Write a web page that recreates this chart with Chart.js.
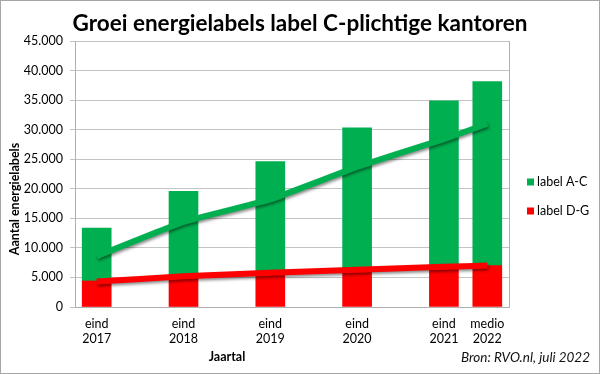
<!DOCTYPE html>
<html>
<head>
<meta charset="utf-8">
<script src="https://cdn.jsdelivr.net/npm/chart.js@4"></script>
<style>
html,body{margin:0;padding:0;background:#fff;}
#wrap{width:600px;height:374px;position:relative;}
</style>
</head>
<body>
<div id="wrap"><canvas id="c" width="600" height="374"></canvas></div>
<script>
// ---- data ----
const periods   = [2017, 2018, 2019, 2020, 2021, 2021.5];           // time position of each bar
const xLabels   = [["eind","2017"],["eind","2018"],["eind","2019"],["eind","2020"],["eind","2021"],["medio","2022"]];
const labelDG   = [4400, 5300, 5900, 6400, 6900, 7000];               // red bars (bottom)
const labelAC   = [8950, 14250, 18700, 23930, 27980, 31130];          // green bars (stacked on top)
const trendAC   = [8600, 14400, 18200, 23700, 28400, 31000];          // green line
const trendDG   = [4300, 5200, 5800, 6300, 6800, 7000];               // red line
const yTicks    = [0, 5000, 10000, 15000, 20000, 25000, 30000, 35000, 40000, 45000];
const seriesNames = ["label A-C", "label D-G"];

const GREEN = '#00B050', RED = '#FF0000';
const FONT = 'Lato, "Open Sans", sans-serif';

function pts(arr){ return arr.map((v,i)=>({x:periods[i], y:v})); }
function fmt(v){ return String(v).replace(/\B(?=(\d{3})+(?!\d))/g, '.'); }

const decor = {
  id:'decor',
  beforeDraw(chart){
    const ctx = chart.ctx;
    ctx.save();
    ctx.fillStyle = '#fff';
    ctx.fillRect(0,0,chart.width,chart.height);
    ctx.restore();
  },
  beforeDatasetDraw(chart, args){
    const ds = chart.data.datasets[args.index];
    if (ds.type === 'line'){
      const ctx = chart.ctx;
      ctx.save();
      ctx.shadowColor = 'rgba(0,0,0,0.45)';
      ctx.shadowBlur = 3;
      ctx.shadowOffsetX = 1;
      ctx.shadowOffsetY = 2;
    }
  },
  afterDatasetDraw(chart, args){
    const ds = chart.data.datasets[args.index];
    if (ds.type === 'line') chart.ctx.restore();
  },
  afterDraw(chart){
    const ctx = chart.ctx, a = chart.chartArea;
    ctx.save();
    // right border of plot area
    ctx.strokeStyle = '#b0b0b0';
    ctx.lineWidth = 1;
    ctx.beginPath();
    ctx.moveTo(Math.round(a.right)+0.5, a.top);
    ctx.lineTo(Math.round(a.right)+0.5, a.bottom);
    ctx.stroke();
    // outer frame
    ctx.strokeStyle = '#a6a6a6';
    ctx.strokeRect(0.5,0.5,chart.width-1,chart.height-1);
    // axis titles
    ctx.fillStyle = '#000';
    ctx.font = 'bold 12.5px ' + FONT;
    ctx.textAlign = 'center';
    ctx.textBaseline = 'middle';
    ctx.fillText('Jaartal', 227, 357);
    ctx.save();
    ctx.translate(15, 199);
    ctx.rotate(-Math.PI/2);
    ctx.fillText('Aantal energielabels', 0, 0);
    ctx.restore();
    // source
    ctx.font = 'italic 13.5px ' + FONT;
    ctx.textAlign = 'right';
    ctx.fillStyle = '#111';
    ctx.fillText('Bron: RVO.nl, juli 2022', 590, 358);
    // legend
    const items = [[seriesNames[0], GREEN, 182],[seriesNames[1], RED, 211]];
    ctx.font = '12.5px ' + FONT;
    ctx.textAlign = 'left';
    items.forEach(([t,c,y])=>{
      ctx.fillStyle = c;
      ctx.fillRect(527, y-3.5, 7, 7);
      ctx.fillStyle = '#000';
      ctx.fillText(t, 537, y);
    });
    ctx.restore();
  }
};

new Chart(document.getElementById('c'), {
  data: {
    datasets: [
      { type:'bar', label:seriesNames[1], data:pts(labelDG), backgroundColor:RED, barThickness:29, stack:'bars', order:2 },
      { type:'bar', label:seriesNames[0], data:pts(labelAC), backgroundColor:GREEN, barThickness:29, stack:'bars', order:2 },
      { type:'line', label:seriesNames[0]+' trend', data:pts(trendAC), borderColor:GREEN, borderWidth:6, pointRadius:0, tension:0.1, stack:'l1', order:0, fill:false },
      { type:'line', label:seriesNames[1]+' trend', data:pts(trendDG), borderColor:RED, borderWidth:6, pointRadius:0, tension:0.1, stack:'l2', order:0, fill:false }
    ]
  },
  options: {
    responsive:false,
    animation:false,
    layout:{ padding:{ left:0, right:0, top:0, bottom:0 } },
    plugins:{
      legend:{ display:false },
      tooltip:{ enabled:false },
      title:{
        display:true,
        text:'Groei energielabels label C-plichtige kantoren',
        color:'#000',
        font:{ family:FONT, size:22.5, weight:'bold' },
        padding:{ top:10, bottom:4 }
      }
    },
    scales:{
      x:{
        type:'linear',
        stacked:true,
        offset:false,
        min:2016.75, max:2021.75,
        afterBuildTicks(s){ s.ticks = periods.map(v=>({value:v})); },
        afterFit(s){ s.height = 67; },
        grid:{ display:false, drawTicks:false },
        border:{ display:true, color:'#b0b0b0' },
        ticks:{
          autoSkip:false, maxRotation:0, padding:9,
          color:'#000',
          font:{ family:FONT, size:12.5, lineHeight:1.2 },
          callback(v){ const i = periods.indexOf(v); return i>=0 ? xLabels[i] : ''; }
        }
      },
      y:{
        stacked:true,
        min:0, max:45000,
        afterBuildTicks(s){ s.ticks = yTicks.map(v=>({value:v})); },
        afterFit(s){ s.width = 75; },
        grid:{ color:'#c4c4c4', tickLength:5, drawTicks:true },
        border:{ display:true, color:'#b0b0b0' },
        ticks:{
          padding:7, color:'#000',
          font:{ family:FONT, size:12.5 },
          callback(v){ return fmt(v); }
        }
      },
      yRight:{
        position:'right',
        min:0, max:45000,
        afterFit(s){ s.width = 91; },
        grid:{ display:false, drawTicks:false },
        border:{ display:false },
        ticks:{ display:false }
      }
    }
  },
  plugins:[decor]
});
</script>
</body>
</html>
